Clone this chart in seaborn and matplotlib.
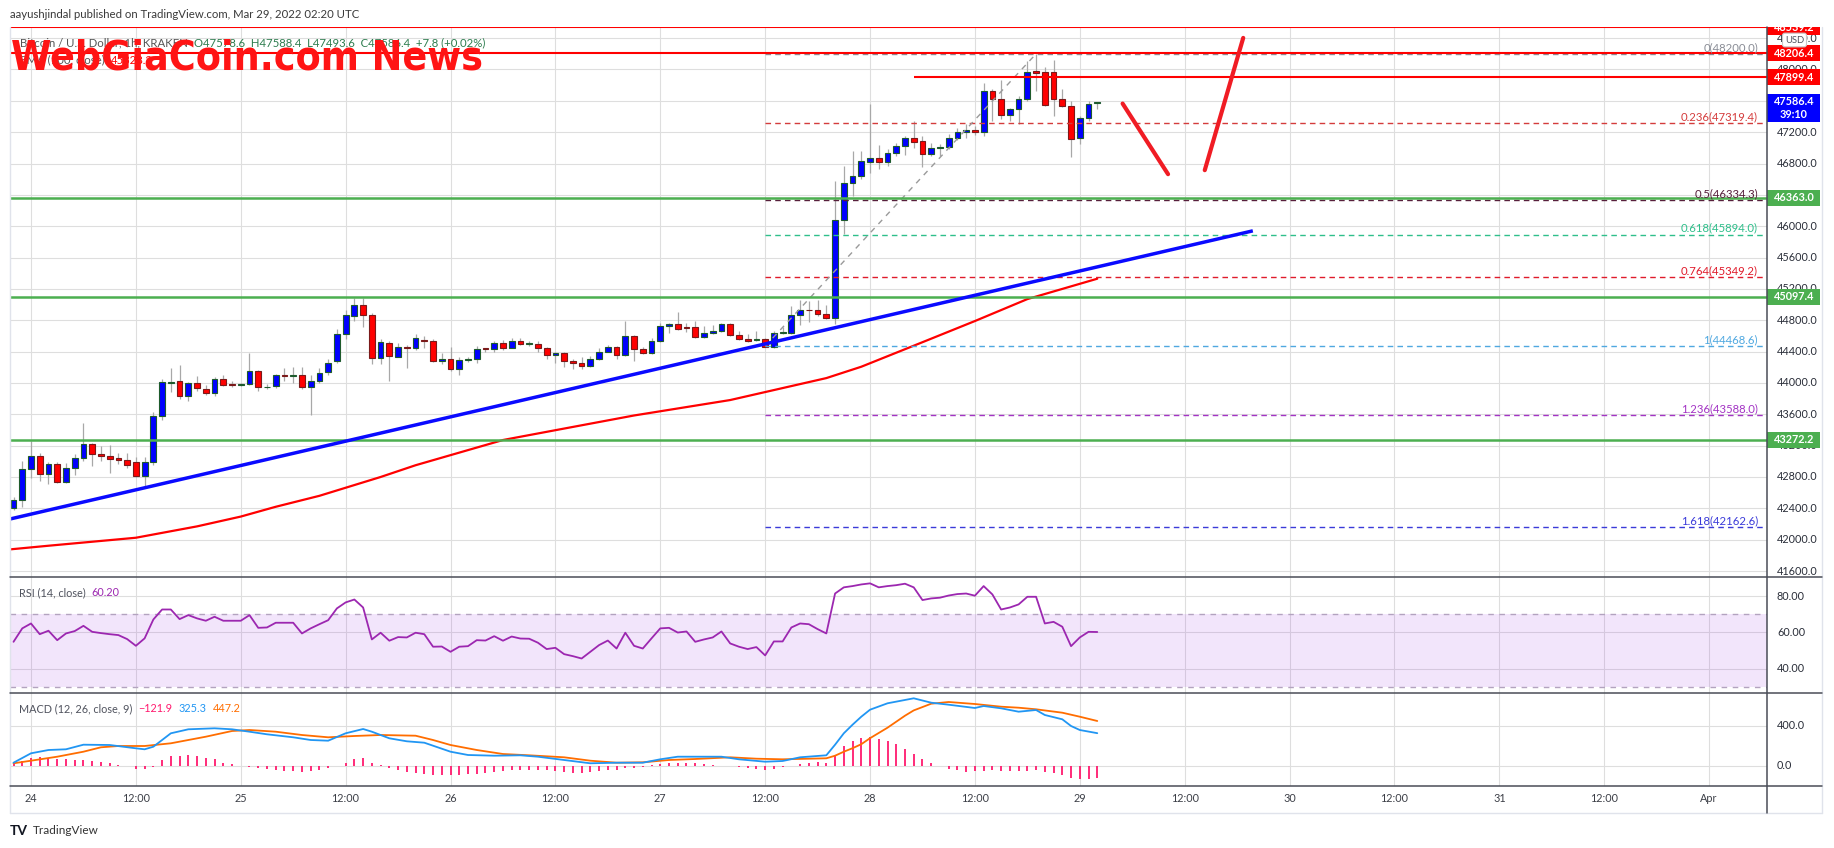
import numpy as np
import pandas as pd
import matplotlib
matplotlib.use("Agg")
import matplotlib.pyplot as plt
import seaborn as sns
from matplotlib.patches import Rectangle
from matplotlib.lines import Line2D
from matplotlib import font_manager as fm

# ---------------- data ----------------
# hourly candles, hour 0 = Mar 24 00:00 UTC
hours = list(range(-2, 123))
opens = [42400, 42510, 42905, 43071, 42840, 42969, 42740, 42918, 43046, 43224, 43097, 43071,
         43046, 43020, 42995, 42816, 42995, 43582, 44000, 44028, 43828, 44002,
         43926, 43875, 44053, 43977, 43975, 43982, 44156, 43943, 43964, 44100,
         44092, 44105, 43943, 44020, 44134, 44274, 44628, 44857, 44997, 44870,
         44321, 44513, 44334, 44460, 44452, 44545, 44538, 44283, 44309, 44181,
         44298, 44300, 44436, 44436, 44513, 44449, 44538, 44496, 44496, 44445,
         44351, 44381, 44283, 44253, 44215, 44309, 44394, 44458, 44351, 44598,
         44432, 44381, 44534, 44726, 44755, 44710, 44713, 44581, 44640, 44666,
         44755, 44611, 44560, 44548, 44555, 44462, 44638, 44640, 44870, 44934,
         44930, 44879, 44828, 46078, 46550, 46640, 46825, 46876, 46817, 46928,
         47021, 47123, 47089, 46919, 46996, 47017, 47132, 47204, 47226, 47200,
         47719, 47617, 47421, 47494, 47617, 47980, 47969, 47969, 47617, 47532,
         47123, 47385, 47578.6]
highs = [42550, 43008, 43263, 43100, 42986, 42990, 42978, 43097, 43492, 43240, 43190, 43212,
         43106, 43100, 43059, 43059, 43633, 44053, 44197, 44232, 44010, 44092,
         43977, 44080, 44096, 44030, 44000, 44376, 44170, 43990, 44120, 44190,
         44207, 44207, 44096, 44190, 44300, 44690, 44934, 45079, 45079, 44890,
         44560, 44540, 44504, 44480, 44620, 44600, 44560, 44380, 44462, 44330,
         44330, 44470, 44450, 44540, 44550, 44580, 44570, 44530, 44530, 44460,
         44400, 44400, 44300, 44330, 44340, 44450, 44490, 44470, 44793, 44610,
         44460, 44570, 44760, 44770, 44908, 44770, 44790, 44730, 44740, 44770,
         44765, 44660, 44630, 44660, 44570, 44660, 44710, 44980, 45060, 45040,
         45060, 44990, 46579, 46770, 46962, 46962, 47560, 47038, 46990, 47060,
         47150, 47344, 47150, 47060, 47050, 47180, 47250, 47300, 47280, 47822,
         47750, 47866, 47510, 47660, 48110, 48200, 48030, 48118, 47750, 47600,
         47410, 47600, 47588.4]
lows = [42380, 42420, 42790, 42745, 42714, 42718, 42720, 42830, 43008, 42935, 43008, 42846,
        42966, 42915, 42800, 42689, 42957, 43530, 43880, 43800, 43773, 43900,
        43850, 43837, 43960, 43950, 43960, 43970, 43900, 43925, 43930, 44020,
        44000, 43920, 43594, 44000, 44100, 44260, 44560, 44793, 44708, 44245,
        44245, 44020, 44325, 44186, 44420, 44450, 44270, 44240, 44150, 44100,
        44270, 44250, 44400, 44400, 44420, 44440, 44480, 44470, 44390, 44300,
        44249, 44207, 44173, 44180, 44200, 44290, 44390, 44310, 44340, 44274,
        44370, 44370, 44520, 44640, 44680, 44650, 44570, 44570, 44620, 44650,
        44600, 44550, 44520, 44530, 44453, 44440, 44620, 44630, 44740, 44780,
        44860, 44810, 44751, 45900, 46388, 46600, 46685, 46728, 46770, 46900,
        46915, 47000, 46758, 46900, 46900, 46980, 47100, 47130, 47160, 47150,
        47344, 47370, 47340, 47310, 47600, 47730, 47530, 47400, 47520, 46885,
        47055, 47340, 47493.6]
closes = [42510, 42905, 43071, 42840, 42969, 42740, 42918, 43046, 43224, 43097, 43071, 43033,
          43020, 42956, 42816, 42995, 43582, 44015, 44010, 43828, 44002, 43931,
          43875, 44053, 43977, 43972, 43985, 44156, 43943, 43952, 44105, 44092,
          44098, 43943, 44020, 44121, 44258, 44628, 44870, 44997, 44870, 44321,
          44525, 44338, 44462, 44450, 44580, 44535, 44283, 44309, 44181, 44296,
          44302, 44436, 44430, 44513, 44441, 44538, 44496, 44500, 44445, 44351,
          44381, 44274, 44253, 44215, 44309, 44394, 44458, 44351, 44598, 44432,
          44381, 44534, 44726, 44755, 44688, 44700, 44581, 44640, 44666, 44755,
          44611, 44560, 44534, 44554, 44462, 44640, 44642, 44870, 44930, 44926,
          44879, 44828, 46078, 46550, 46640, 46834, 46876, 46817, 46928, 47021,
          47132, 47080, 46919, 46996, 47017, 47132, 47204, 47226, 47200, 47719,
          47617, 47421, 47494, 47617, 47969, 47960, 47544, 47617, 47532, 47111,
          47385, 47560, 47586.4]

rsi = [54.8, 62.2, 64.9, 59.0, 60.9, 55.7, 59.4, 60.7, 63.6, 60.3, 59.6, 59.0,
       58.5, 56.3, 52.6, 56.7, 67.1, 72.6, 72.6, 67.3, 69.5, 67.7,
       66.4, 68.6, 66.4, 66.4, 66.4, 69.5, 62.5, 62.7, 65.3, 65.3,
       65.3, 59.4, 62.2, 64.5, 66.7, 73.2, 76.5, 78.1, 73.7, 56.1,
       59.8, 55.4, 57.4, 57.2, 59.8, 59.0, 52.1, 52.2, 49.3, 52.1,
       52.4, 55.7, 55.5, 57.9, 55.4, 57.7, 56.6, 56.5, 54.3, 50.8,
       51.5, 48.0, 46.9, 45.6, 49.3, 53.0, 55.5, 51.1, 59.8, 52.6,
       51.1, 56.7, 62.2, 62.5, 59.9, 60.5, 54.8, 56.1, 57.2, 60.5,
       53.9, 52.1, 50.8, 51.9, 47.3, 55.0, 55.0, 62.7, 64.9, 64.5,
       61.8, 59.4, 81.4, 84.8, 85.5, 86.4, 87.0, 84.8, 85.5, 86.0,
       86.8, 84.8, 77.8, 78.7, 79.1, 80.3, 81.1, 81.4, 80.2, 85.5,
       80.9, 72.6, 73.7, 75.4, 79.6, 79.6, 64.9, 65.8, 63.1, 52.4,
       57.2, 60.3, 60.2]

macd_hist = [30, 50, 80, 84, 80, 67, 67, 57, 57, 50, 37, 24,
             7, -3, -36, -36, -10, 57, 97, 97, 107, 100,
             74, 64, 30, 14, -3, -10, -20, -30, -40, -50,
             -55, -60, -50, -40, -25, 0, 30, 64, 74, 30,
             7, -20, -45, -60, -70, -80, -90, -93, -93, -90,
             -85, -80, -70, -60, -50, -45, -40, -40, -40, -45,
             -55, -65, -72, -73, -65, -55, -45, -40, -25, -20,
             -10, 5, 20, 30, 30, 30, 30, 17, 7, 0,
             -7, -13, -23, -33, -40, -33, -17, 0, 17, 30,
             37, 30, 107, 200, 247, 277, 290, 267, 247, 214,
             167, 117, 67, 27, 0, -30, -45, -60, -55, -50,
             -45, -50, -57, -57, -50, -45, -60, -70, -90, -120,
             -130, -130, -121.9]

macd_x = [-2, 0, 2, 4, 6, 9, 12, 13, 14, 15, 16, 18, 21, 23, 25, 27, 30, 32, 34, 36, 38, 39,
          41, 43, 45, 48, 50, 53, 56, 58, 61, 64, 67, 70, 72, 74, 77, 79, 81, 84, 86, 88, 91,
          92, 93, 94, 95, 96, 98, 101, 103, 105, 108, 109, 111, 113, 115, 116, 118, 119, 120, 122]
macd_y = [30, 124, 157, 164, 210, 207, 174, 164, 190, 257, 324, 364, 374, 364, 340, 314, 284, 257,
          250, 324, 367, 340, 274, 244, 230, 140, 107, 100, 104, 90, 57, 24, 30, 30, 64, 90, 90,
          90, 64, 40, 47, 84, 104, 210, 324, 410, 490, 560, 624, 674, 630, 610, 577, 597, 574,
          540, 557, 507, 464, 397, 357, 325.3]
signal_x = [-2, 0, 3, 6, 8, 10, 13, 16, 18, 20, 23, 25, 28, 31, 34, 37, 40, 44, 46, 48, 51, 54,
            57, 61, 64, 67, 70, 73, 76, 80, 83, 86, 91, 92, 93, 94, 95, 96, 98, 100, 101, 103,
            105, 108, 111, 113, 115, 118, 120, 122]
signal_y = [24, 50, 90, 140, 184, 197, 197, 224, 257, 290, 347, 357, 340, 307, 284, 297, 307, 300,
            257, 207, 157, 117, 104, 84, 50, 30, 34, 57, 67, 84, 70, 64, 74, 100, 140, 175, 215,
            275, 380, 500, 553, 620, 637, 617, 590, 580, 564, 530, 490, 447.2]

ema_x = [-3, 2, 12, 19, 24, 28, 33, 40, 44, 54, 69, 80, 91, 95, 102, 108, 114, 122]
ema_y = [41870, 41923, 42025, 42170, 42295, 42420, 42560, 42800, 42950, 43272, 43585, 43782,
         44062, 44207, 44520, 44790, 45070, 45330]

fib_ratios = ["0", "0.236", "0.5", "0.618", "0.764", "1", "1.236", "1.618"]
fib_prices = [48200.0, 47319.4, 46334.3, 45894.0, 45349.2, 44468.6, 43588.0, 42162.6]
fib_start_hour = 84
fib_swing = [(84, 44468.6), (115, 48200.0)]

red_levels = [48539.2, 48206.4]
red_short_level = 47899.4
green_levels = [46363.0, 45097.4, 43272.2]
trend_pts = [(-2.4, 42264), (139.8, 45941)]
arrow_down = [(124.9, 47565), (130.1, 46664)]
arrow_up = [(134.3, 46715), (138.7, 48403)]

tick_hours = [0, 12, 24, 36, 48, 60, 72, 84, 96, 108, 120, 132, 144, 156, 168, 180, 192]
tick_labels = ["24", "12:00", "25", "12:00", "26", "12:00", "27", "12:00", "28", "12:00",
               "29", "12:00", "30", "12:00", "31", "12:00", "Apr"]
price_ticks = [41600, 42000, 42400, 42800, 43200, 43600, 44000, 44400, 44800, 45200, 45600,
               46000, 46400, 46800, 47200, 47600, 48000, 48400]

# ---------------- styling ----------------
sns.set_theme(style="white")


def pick_font(cands):
    names = {f.name for f in fm.fontManager.ttflist}
    for c in cands:
        if c in names:
            return c
    return "DejaVu Sans"


UI = pick_font(["Lato", "Open Sans", "Noto Sans", "DejaVu Sans"])
plt.rcParams["font.family"] = [UI, "DejaVu Sans"]
plt.rcParams["axes.unicode_minus"] = True

W, H = 1834, 848
fig = plt.figure(figsize=(W / 100, H / 100), dpi=100)
fig.patch.set_facecolor("white")


def fx(px):
    return px / W


def fy(py):
    return 1 - py / H


def rect(l, t, r, b):
    return [fx(l), fy(b), fx(r) - fx(l), fy(t) - fy(b)]


ax = fig.add_axes(rect(10, 27, 1767, 577))
ax_rsi = fig.add_axes(rect(10, 577, 1767, 693), sharex=ax)
ax_macd = fig.add_axes(rect(10, 693, 1767, 786), sharex=ax)
sc = fig.add_axes(rect(1767, 27, 1822, 577))
sc_rsi = fig.add_axes(rect(1767, 577, 1822, 693))
sc_macd = fig.add_axes(rect(1767, 693, 1822, 786))

XMIN, XMAX = -2.403, 198.63
ax.set_xlim(XMIN, XMAX)
ax.set_ylim(41524, 48542)
ax_rsi.set_ylim(26.6, 90.5)
ax_macd.set_ylim(-203, 727)
for s_, a_ in [(sc, ax), (sc_rsi, ax_rsi), (sc_macd, ax_macd)]:
    s_.set_xlim(0, 1)
    s_.set_ylim(a_.get_ylim())
    s_.set_axis_off()

GRID = "#dedede"
for a in [ax, ax_rsi, ax_macd]:
    a.set_facecolor("white")
    for s in a.spines.values():
        s.set_visible(False)
    a.set_axisbelow(True)
    a.grid(True, color=GRID, lw=0.8)
    a.tick_params(length=0, labelleft=False, labelbottom=False)

ax_macd.set_xticks(tick_hours)
ax_macd.set_xticklabels(tick_labels)
ax.set_yticks(price_ticks)
ax_rsi.set_yticks([40, 60, 80])
ax_macd.set_yticks([0, 400])
ax_macd.tick_params(axis="x", labelbottom=True, length=0, pad=5, labelsize=7.8, labelcolor="#3c3f47")

# ---------------- candles ----------------
df = pd.DataFrame({"h": hours, "o": opens, "hi": highs, "lo": lows, "c": closes})
df["up"] = df["c"] >= df["o"]
df["bot"] = df[["o", "c"]].min(axis=1)
df["ht"] = (df["c"] - df["o"]).abs().clip(lower=10)
ax.vlines(df["h"], df["lo"], df["hi"], color="#a8a8a8", lw=0.9, zorder=2)
u = df[df["up"]]
d = df[~df["up"]]
ax.bar(u["h"], u["ht"], bottom=u["bot"], width=0.66, color="#0000ff", edgecolor="#1e5b2c",
       lw=0.8, zorder=3)
ax.bar(d["h"], d["ht"], bottom=d["bot"], width=0.66, color="#ff0000", edgecolor="#7a1a1a",
       lw=0.8, zorder=3)

# EMA
sns.lineplot(x=ema_x, y=ema_y, ax=ax, color="#ff0000", lw=1.6, errorbar=None, zorder=5)

# horizontal levels
for p in red_levels:
    ax.axhline(p, color="#ff0000", lw=1.5, zorder=6)
ax.hlines(red_short_level, 101, XMAX, color="#ff0000", lw=1.5, zorder=6)
for p in green_levels:
    ax.axhline(p, color="#4caf50", lw=1.8, zorder=6)

# fib levels
fib_colors = ["#8a8d96", "#d43c3c", "#571f3b", "#2fbf8b", "#e01b2b", "#4fa8e0", "#a334c4", "#3b3bd9"]
for r, p, col in zip(fib_ratios, fib_prices, fib_colors):
    ax.hlines(p, fib_start_hour, XMAX, color=col, lw=1.0, ls=(0, (4, 3)), zorder=5)
    ax.text(197.6, p + 80, f"{r}({p:.1f})", color=col, fontsize=8.2, ha="right", va="center",
            zorder=7)
ax.plot([fib_swing[0][0], fib_swing[1][0]], [fib_swing[0][1], fib_swing[1][1]],
        color="#9a9a9a", lw=1.0, ls=(0, (4, 4)), zorder=5)

# trendline and forecast drawings
ax.plot([trend_pts[0][0], trend_pts[1][0]], [trend_pts[0][1], trend_pts[1][1]],
        color="#0a0aff", lw=2.5, zorder=7, solid_capstyle="butt")
for seg in (arrow_down, arrow_up):
    ax.plot([seg[0][0], seg[1][0]], [seg[0][1], seg[1][1]], color="#f01c24", lw=3.0,
            zorder=8, solid_capstyle="round")

# ---------------- RSI ----------------
ax_rsi.axhspan(30, 70, color="#9b2fe6", alpha=0.12, lw=0, zorder=1)
for lvl in (70, 30):
    ax_rsi.axhline(lvl, color="#b3a3bf", lw=1.0, ls=(0, (4, 4)), zorder=2)
sns.lineplot(x=hours, y=rsi, ax=ax_rsi, color="#9c27b0", lw=1.3, errorbar=None, zorder=4)

# ---------------- MACD ----------------
ax_macd.vlines(hours, 0, macd_hist, color="#ff1a6e", lw=1.3, zorder=3)
sns.lineplot(x=signal_x, y=signal_y, ax=ax_macd, color="#ff6d00", lw=1.3, errorbar=None, zorder=4)
sns.lineplot(x=macd_x, y=macd_y, ax=ax_macd, color="#2196f3", lw=1.3, errorbar=None, zorder=5)
for a in [ax, ax_rsi, ax_macd]:
    a.set_xlabel("")
    a.set_ylabel("")
    a.set_xlim(XMIN, XMAX)

# ---------------- price scales ----------------
LBL = "#2a2e39"


def scale_labels(s_, vals, fmt):
    for v in vals:
        s_.text(0.18, v, fmt.format(v), transform=s_.get_yaxis_transform(), ha="left",
                va="center", fontsize=7.8, color=LBL, clip_on=True, zorder=2)


scale_labels(sc, price_ticks, "{:.1f}")
scale_labels(sc_rsi, [40, 60, 80], "{:.2f}")
scale_labels(sc_macd, [0, 400], "{:.1f}")

HALF = 102


def scale_box(p, txt, col, up=HALF, dn=HALF, sub=None):
    sc.add_patch(Rectangle((0.0, p - dn), 0.965, up + dn, transform=sc.get_yaxis_transform(),
                           facecolor=col, edgecolor="none", clip_on=True, zorder=4))
    sc.text(0.49, p, txt, transform=sc.get_yaxis_transform(), ha="center", va="center",
            fontsize=7.8, color="white", weight="bold", clip_on=True, zorder=5)
    if sub:
        sc.text(0.49, p - 165, sub, transform=sc.get_yaxis_transform(), ha="center",
                va="center", fontsize=7.8, color="white", weight="bold", clip_on=True, zorder=5)


scale_box(48539.2, "48539.2", "#ff0000")
scale_box(48206.4, "48206.4", "#ff0000")
scale_box(47899.4, "47899.4", "#ff0000")
scale_box(47586.4, "47586.4", "#0000ff", up=102, dn=255, sub="39:10")
for p in green_levels:
    scale_box(p, f"{p:.1f}", "#4caf50")
sc.text(0.5, 48376, "USD", transform=sc.get_yaxis_transform(), ha="center", va="center",
        fontsize=6.8, color="#50535e", zorder=6, clip_on=True,
        bbox=dict(boxstyle="round,pad=0.25", fc="white", ec="#c8c8c8", lw=0.8))

# ---------------- frame lines ----------------


def fline(x0, y0, x1, y1, color, lw):
    fig.add_artist(Line2D([fx(x0), fx(x1)], [fy(y0), fy(y1)], color=color, lw=lw,
                          transform=fig.transFigure, zorder=10))


LIGHT = "#e0e3eb"
DARK = "#4a4d57"
fline(10, 27, 10, 813, LIGHT, 1.0)
fline(10, 813, 1822, 813, LIGHT, 1.0)
fline(1822, 27, 1822, 813, LIGHT, 1.0)
fline(10, 577, 1822, 577, DARK, 1.1)
fline(10, 693, 1822, 693, DARK, 1.1)
fline(10, 786, 1822, 786, DARK, 1.1)
fline(1767, 27, 1767, 813, DARK, 1.1)

# ---------------- texts ----------------
renderer = fig.canvas.get_renderer()


def chain(x_px, y_px, parts, size, gap=5):
    x = x_px
    for s, col in parts:
        t = fig.text(fx(x), fy(y_px), s, color=col, fontsize=size, va="center", ha="left",
                     zorder=12)
        x += t.get_window_extent(renderer).width + gap


fig.text(fx(10), fy(15), "aayushjindal published on TradingView.com, Mar 29, 2022 02:20 UTC",
         fontsize=8.2, color="#3a3a3a", va="center", ha="left")
chain(20, 43, [("Bitcoin / U.S. Dollar, 1h, KRAKEN", "#555555"),
               ("O47578.6  H47588.4  L47493.6  C47586.4  +7.8 (+0.02%)", "#2e7d4f")], 8.2, gap=6)
chain(20, 60, [("EMA (100, close)", "#555555"), ("45328.2", "#ff0000")], 8.2, gap=6)
chain(19, 593, [("RSI (14, close)", "#50535e"), ("60.20", "#9c27b0")], 7.8, gap=6)
chain(19, 709, [("MACD (12, 26, close, 9)", "#50535e"), ("\u2212121.9", "#ff1a6e"),
                ("325.3", "#2196f3"), ("447.2", "#ff6d00")], 7.8, gap=6)


# watermark: narrowest heavy face available (taller letters at the same width)
def _w(f):
    return f.weight if isinstance(f.weight, int) else fm.weight_dict.get(f.weight, 400)


wm_fp = None
for f in fm.fontManager.ttflist:
    n = f.fname.lower()
    if ("narrow" in n or "condensed" in n) and ("bold" in n or "black" in n) and "italic" not in n \
            and "oblique" not in n:
        wm_fp = fm.FontProperties(fname=f.fname)
        break
if wm_fp is None:
    cjk = [f for f in fm.fontManager.ttflist
           if f.name.startswith("Noto Sans CJK") and f.style == "normal" and _w(f) >= 700]
    if cjk:
        cjk.sort(key=lambda f: -_w(f))
        wm_fp = fm.FontProperties(fname=cjk[0].fname, weight=_w(cjk[0]))
if wm_fp is None:
    wm_fp = fm.FontProperties(family=UI, weight="bold")
wm = fig.text(fx(11), fy(70), "WebGiaCoin.com News", color="#ff1414", fontproperties=wm_fp,
              fontsize=40, va="baseline", ha="left", zorder=20)
wbb = wm.get_window_extent(renderer)
wm.set_fontsize(40 * 471 / wbb.width)

# footer
fig.text(fx(10), fy(831), "TV", fontsize=10, weight="bold", color="#131722", va="center",
         ha="left")
fig.text(fx(33), fy(831), "TradingView", fontsize=8.5, color="#333333", va="center", ha="left")

fig.savefig("out.png", dpi=100)
